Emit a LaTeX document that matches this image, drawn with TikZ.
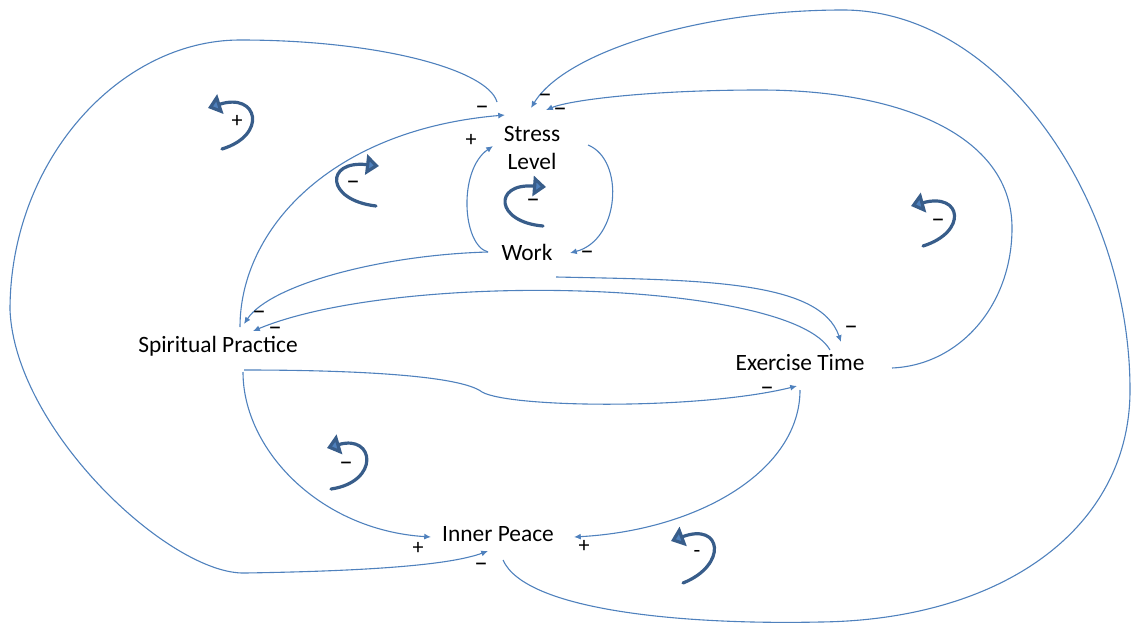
\documentclass[tikz,border=0pt]{standalone}
\usepackage{fontspec}
\setmainfont{Carlito}
\usetikzlibrary{arrows.meta}
\definecolor{linkblue}{RGB}{79,129,189}
\definecolor{loopdark}{RGB}{56,93,138}
\definecolor{loopfill}{RGB}{79,129,189}
\begin{document}
\begin{tikzpicture}[x=0.5pt,y=-0.5pt,
  var/.style={inner sep=0pt, font=\fontsize{11.7}{14}\selectfont, align=center},
  link/.style={draw=linkblue, line width=0.55pt, -{Latex[length=3.4pt,width=3pt]}},
  sign/.style={inner sep=0pt, font=\fontsize{11}{12}\selectfont},
  neg/.style={inner sep=0pt, text height=4.2pt, text depth=0pt, yshift=-1.4pt,
    font=\fontsize{13.5}{14}\selectfont},
  loopline/.style={draw=loopdark, line width=1.6pt, line cap=round,
    -{Triangle[length=6.5pt,width=10pt,fill=loopfill,line join=miter]}},
]
\useasboundingbox (0,0) rectangle (1133,626);

% variables
\node[var] (stress)   at (532,148) {Stress\\Level};
\node[var] (work)     at (527,252) {Work};
\node[var] (spirit)   at (218,346) {Spiritual Practice};
\node[var] (exercise) at (800,363) {Exercise Time};
\node[var] (peace)    at (498,534) {Inner Peace};

% causal links
\draw[link] ([shift={(-35,-46)}]stress.center) .. controls (488,70) and (380,40) .. (240,40)
  .. controls (120,40) and (10,160) .. (10,310)
  .. controls (15,430) and (170,575) .. (245,573)
  .. controls (370,571) and (450,565) .. ([shift={(-10,17)}]peace.center);
\draw[link] ([shift={(5,26)}]peace.center) .. controls (525,610) and (680,625) .. (820,622)
  .. controls (1000,620) and (1130,530) .. (1130,390)
  .. controls (1130,200) and (1000,10) .. (843,10)
  .. controls (700,10) and (565,52) .. ([shift={(-1,-40)}]stress.center);
\draw[link] ([shift={(92,5)}]exercise.center) .. controls (960,365) and (1012,305) .. (1012,228)
  .. controls (1012,135) and (900,90) .. (760,90)
  .. controls (650,90) and (570,100) .. ([shift={(14,-38)}]stress.center);
\draw[link] ([shift={(22,-19)}]spirit.center) .. controls (240,230) and (330,130) .. ([shift={(-27,-33)}]stress.center);
\draw[link] ([shift={(-39,0)}]work.center) .. controls (462,245) and (458,170) .. ([shift={(-39,-2)}]stress.center);
\draw[link] ([shift={(56,-3)}]stress.center) .. controls (625,160) and (620,240) .. ([shift={(43,1)}]work.center);
\draw[link] ([shift={(-39,0)}]work.center) .. controls (380,255) and (270,285) .. ([shift={(26,-22)}]spirit.center);
\draw[link] ([shift={(29,25)}]work.center) .. controls (700,280) and (820,280) .. ([shift={(41,-21)}]exercise.center);
\draw[link] ([shift={(30,-13)}]exercise.center) .. controls (790,280) and (400,270) .. ([shift={(35,-15)}]spirit.center);
\draw[link] ([shift={(26,24)}]spirit.center) .. controls (350,370) and (460,375) .. (482,392)
  .. controls (510,408) and (700,410) .. ([shift={(-3,23)}]exercise.center);
\draw[link] ([shift={(25,26)}]spirit.center) .. controls (243,450) and (320,530) .. ([shift={(-67,3)}]peace.center);
\draw[link] ([shift={(0,27)}]exercise.center) .. controls (800,470) and (700,530) .. ([shift={(76,3)}]peace.center);

% link polarities
\node[neg]  (s1)  at (482,107) {–};
\node[sign] (s2)  at (471,140) {+};
\node[neg]  (s3)  at (545,96)  {–};
\node[neg]  (s4)  at (560,109) {–};
\node[neg]  (s5)  at (587,252) {–};
\node[neg]  (s6)  at (259,312) {–};
\node[neg]  (s7)  at (275,328) {–};
\node[neg]  (s8)  at (851,327) {–};
\node[neg]  (s9)  at (767,388) {–};
\node[sign] (s10) at (418,548) {+};
\node[sign] (s11) at (584,546) {+};
\node[neg]  (s12) at (481,564) {–};

% loop markers
\draw[loopline] (222,149) .. controls (268,135) and (258,92) .. (208,108);
\draw[loopline] (376,206) .. controls (325,200) and (325,160) .. (379,166);
\draw[loopline] (543,226) .. controls (495,222) and (493,183) .. (546,187);
\draw[loopline] (923,246) .. controls (968,232) and (962,192) .. (911,206);
\draw[loopline] (331,489) .. controls (380,482) and (375,434) .. (327,448);
\draw[loopline] (683,583) .. controls (728,565) and (722,522) .. (671,541);

\node[sign] (l1) at (237,121) {+};
\node[neg]  (l2) at (353,182) {–};
\node[neg]  (l3) at (533,200) {–};
\node[neg]  (l4) at (938,220) {–};
\node[neg]  (l5) at (346,463) {–};
\node[sign] (l6) at (697,554) {-};
\end{tikzpicture}
\end{document}
